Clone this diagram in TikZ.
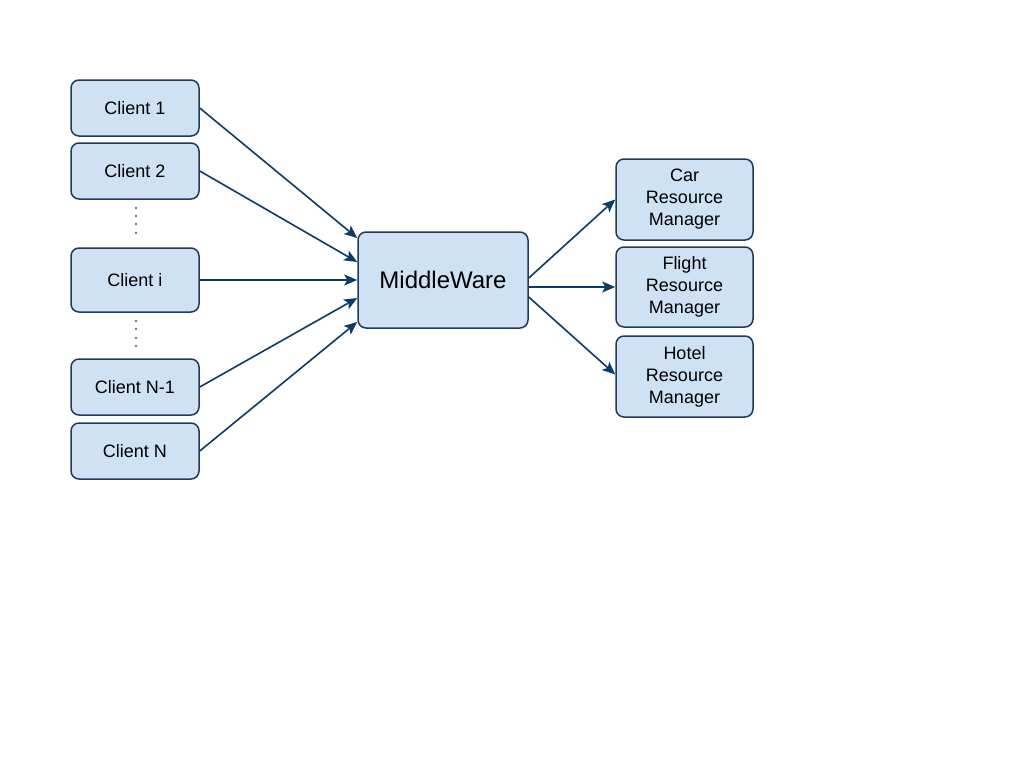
\documentclass[tikz,border=0pt]{standalone}
\usepackage{fontspec}
\setmainfont{Liberation Sans}
\usetikzlibrary{arrows.meta}
\definecolor{boxfill}{HTML}{CFE2F3}
\definecolor{boxline}{HTML}{1F3A5A}
\definecolor{arrowline}{HTML}{0B3B66}
\definecolor{dotcol}{HTML}{5B7A99}
\begin{document}
\begin{tikzpicture}[x=1pt,y=-1pt,
	box/.style={draw=boxline,fill=boxfill,line width=1.5pt,rounded corners=8pt,
	minimum width=128pt,minimum height=56pt,inner sep=0pt,align=center,
	font=\fontsize{18}{22}\selectfont},
	rm/.style={box,minimum width=137pt,minimum height=81pt},
	link/.style={draw=arrowline,line width=1.6pt,-{Stealth[length=13pt,width=11pt,inset=3pt]}}]
\useasboundingbox (0,0) rectangle (1024,768);
\node[box] (c1) at (135,108) {Client 1};
\node[box] (c2) at (135,171) {Client 2};
\node[box,minimum height=64pt] (ci) at (135,280) {Client i};
\node[box] (cn1) at (135,387) {Client N-1};
\node[box] (cn) at (135,451) {Client N};
\node[box,minimum width=170pt,minimum height=96pt,font=\fontsize{24}{28}\selectfont] (mw) at (443,280) {MiddleWare};
\node[rm] (car) at (684.5,199.5) {Car\\Resource\\Manager};
\node[rm,minimum height=80pt] (flight) at (684.5,287) {Flight\\Resource\\Manager};
\node[rm] (hotel) at (684.5,376.5) {Hotel\\Resource\\Manager};
\foreach \y in {208,216,224,233,321,329,338,346}
	\fill[dotcol] (136,\y) circle (1.3pt);
\draw[link] (c1.east) -- ([yshift=42pt]mw.west);
\draw[link] (c2.east) -- ([yshift=18pt]mw.west);
\draw[link] (ci.east) -- (mw.west);
\draw[link] (cn1.east) -- ([yshift=-18pt]mw.west);
\draw[link] (cn.east) -- ([yshift=-42pt]mw.west);
\draw[link] ([yshift=2pt]mw.east) -- (car.west);
\draw[link] ([yshift=-7pt]mw.east) -- (flight.west);
\draw[link] ([yshift=-17pt]mw.east) -- ([yshift=2pt]hotel.west);
\end{tikzpicture}
\end{document}
